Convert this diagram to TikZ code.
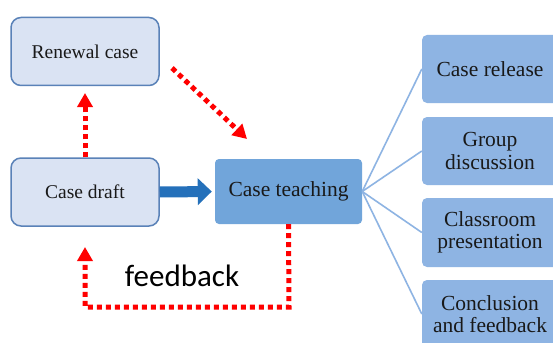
\documentclass[tikz,border=0pt]{standalone}
\usepackage{fontspec}
\setmainfont{Liberation Serif}
\newfontfamily\boxfont{Liberation Serif}
\newfontfamily\labelfont{Carlito}
\usetikzlibrary{arrows.meta}

\definecolor{paleblue}{HTML}{DAE3F3}
\definecolor{paleedge}{HTML}{5A82B8}
\definecolor{midblue}{HTML}{71A5DA}
\definecolor{stepblue}{HTML}{8EB4E3}
\definecolor{arrowblue}{HTML}{2470BA}

\tikzset{
  draftbox/.style={draw=paleedge, line width=1.5pt, fill=paleblue, rounded corners=10pt,
    minimum width=148pt, minimum height=68pt, inner sep=0pt, align=center,
    font=\boxfont\fontsize{19.5}{21}\selectfont, text=black!90},
  teachbox/.style={fill=midblue, rounded corners=4pt, minimum width=147pt,
    minimum height=65pt, inner sep=0pt, align=center,
    font=\boxfont\fontsize{21.5}{23}\selectfont, text=black!90},
  stagebox/.style={fill=stepblue, rounded corners=5pt, minimum width=136pt,
    minimum height=68pt, inner sep=0pt, align=center,
    font=\boxfont\fontsize{21.5}{22.5}\selectfont, text=black!90},
  redflow/.style={draw=red, line width=5pt, dash pattern=on 5pt off 4pt,
    -{Triangle[length=14pt,width=15pt]}},
  fanline/.style={draw=stepblue, line width=1.6pt},
}

\begin{document}
\begin{tikzpicture}[x=1pt, y=-1pt]
  \clip (0,0) rectangle (553,342);
  \fill[white] (0,0) rectangle (553,342);

  % left column
  \node[draftbox] (renew) at (85,51.5) {Renewal case};
  \node[draftbox] (draft) at (85,192) {Case draft};

  % central step
  \node[teachbox] (teach) at (288.5,191.5) {Case teaching};

  % teaching stages
  \node[stagebox] (s1) at (490,69)    {Case release};
  \node[stagebox] (s2) at (490,151)   {Group\\discussion};
  \node[stagebox, minimum height=69pt] (s3) at (490,232.5) {Classroom\\presentation};
  \node[stagebox] (s4) at (490,314)   {Conclusion\\and feedback};

  \foreach \s in {s1,s2,s3,s4}
    \draw[fanline] (teach.east) -- (\s.west);

  % draft -> teaching
  \draw[draw=arrowblue, line width=11pt, -{Triangle[length=14pt,width=26pt]},
        shorten >=3pt] (draft.east) -- (teach.west);

  % draft -> renewal
  \coordinate (renewtip) at (85,93);
  \draw[redflow] (draft.north) -- (renewtip);

  % renewal -> teaching
  \coordinate (diagstart) at (172,68);
  \coordinate (diagtip) at (247,139);
  \draw[redflow] (diagstart) -- (diagtip);

  % feedback loop
  \coordinate (loopcorner) at (289,307);
  \coordinate (looptip) at (85,247);
  \draw[redflow] (teach.south) -- (loopcorner) -| (looptip);

  \node[font=\labelfont\fontsize{31}{33}\selectfont, text=black] (fb) at (182,276) {feedback};
\end{tikzpicture}
\end{document}
